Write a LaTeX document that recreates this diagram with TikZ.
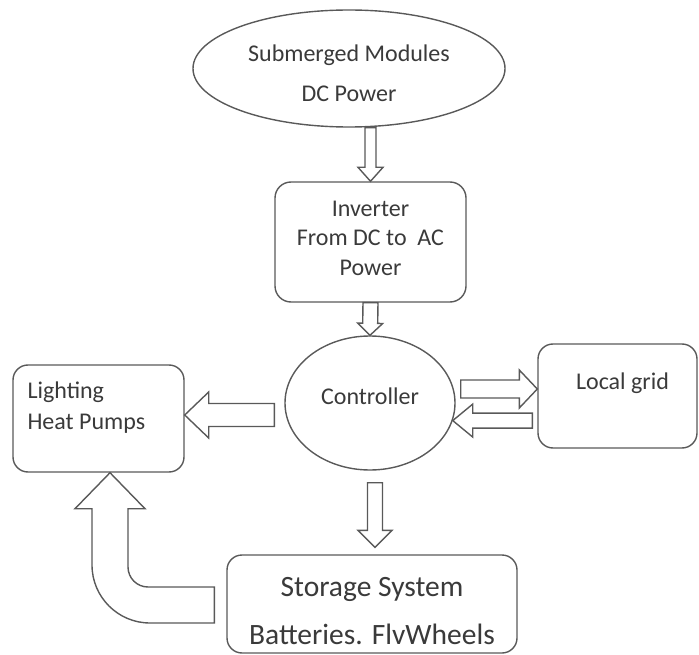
\documentclass[tikz,border=0pt]{standalone}
\usepackage{fontspec}
\setmainfont{Carlito}
\usetikzlibrary{calc,shapes.geometric}
\definecolor{edgegray}{HTML}{595959}
\definecolor{inkgray}{HTML}{3A3A3A}

% hollow block arrow: from, to, shaft half width, head half width, head length
\newcommand{\blockarr}[5]{%
  \coordinate (ba-s) at (#1);
  \coordinate (ba-e) at (#2);
  \coordinate (ba-b) at ($(ba-e)!#5!(ba-s)$);
  \draw[hollow] ($(ba-s)!#3!90:(ba-e)$) -- ($(ba-b)!#3!90:(ba-e)$) -- ($(ba-b)!#4!90:(ba-e)$) -- (ba-e)
    -- ($(ba-b)!#4!-90:(ba-e)$) -- ($(ba-b)!#3!-90:(ba-e)$) -- ($(ba-s)!#3!-90:(ba-e)$) -- cycle;
}

\begin{document}
\begin{tikzpicture}[x=1pt, y=-1pt,
  box/.style={draw=edgegray, line width=1.4pt, rounded corners=15pt, inner sep=0pt},
  oval/.style={draw=edgegray, line width=1.4pt, ellipse, inner sep=0pt},
  txt/.style={text=inkgray, inner sep=0pt, align=center, font=\fontsize{24}{31}\selectfont},
  hollow/.style={draw=edgegray, line width=1.4pt, fill=white, line join=miter}
]
\useasboundingbox (0,0) rectangle (699,655);

% --- shapes -----------------------------------------------------------------
\node[oval, minimum width=312pt, minimum height=117pt] (src) at (349,68.5) {};
\node[box, minimum width=191pt, minimum height=120pt, rounded corners=16pt] (inv) at (370.5,242) {};
\node[oval, minimum width=170pt, minimum height=134pt] (ctrl) at (370,403) {};
\node[box, minimum width=171pt, minimum height=107pt] (light) at (98.5,418.5) {};
\node[box, minimum width=159pt, minimum height=104pt] (grid) at (617.5,396) {};
\node[box, minimum width=290pt, minimum height=98pt] (stor) at (372,604) {};

% --- texts --------------------------------------------------------------------
\node[txt, font=\fontsize{24}{40}\selectfont] (src-txt) at ($(src)+(0,4.5)$) {Submerged Modules\\DC Power};
\node[txt, font=\fontsize{24}{29.5}\selectfont] (inv-txt) at ($(inv)+(0,-4)$) {Inverter\\From DC to\ \ AC\\Power};
\node[txt] (ctrl-txt) at ($(ctrl)+(0,-7)$) {Controller};
\node[txt, align=left, anchor=west] (light-txt) at ($(light.west)+(15,-11)$) {Lighting\\Heat Pumps};
\node[txt] (grid-txt) at ($(grid.center)+(5,-13)$) {Local grid};
\node[txt, font=\fontsize{29.5}{48}\selectfont] (stor-txt) at ($(stor)+(0,7)$) {Storage System\\Batteries. FlvWheels};

% --- block arrows -----------------------------------------------------------
\blockarr{inv.north |- src.south}{inv.north}{5.5pt}{12.5pt}{14pt}
\blockarr{inv.south}{ctrl.north}{7.5pt}{12.5pt}{12pt}
\blockarr{$(ctrl.west)+(-10,12)$}{$(light.east |- ctrl.west)+(0,12)$}{11.5pt}{23pt}{24pt}
\blockarr{$(ctrl.east)+(5,-14)$}{$(grid.west |- ctrl.east)+(0,-14)$}{9pt}{19pt}{18pt}
\blockarr{$(grid.west |- ctrl.-12)+(-5,0)$}{ctrl.-12}{7.5pt}{16.5pt}{20pt}
\blockarr{$(ctrl.south)+(5,12)$}{$(stor.north)+(3,-7)$}{7.5pt}{17pt}{17pt}

% bent arrow from storage up to the loads
\coordinate (ut-tail) at ($(stor.west)+(-12,1)$);
\coordinate (ut-tip) at ($(light.south)+(11.5,0)$);
\draw[hollow] let \p1=(ut-tail), \p2=(ut-tip) in
  (\x1,\y1+18pt) -- (\x2+38pt,\y1+18pt) arc[start angle=270, end angle=180, radius=20pt]
  -- (\x2+18pt,\y2-36pt) -- (\x2+35pt,\y2-36pt) -- (\x2,\y2) -- (\x2-35pt,\y2-36pt) -- (\x2-18pt,\y2-36pt)
  -- (\x2-18pt,\y1-18pt+58pt) arc[start angle=180, end angle=270, radius=58pt]
  -- (\x1,\y1-18pt) -- cycle;

\end{tikzpicture}
\end{document}
